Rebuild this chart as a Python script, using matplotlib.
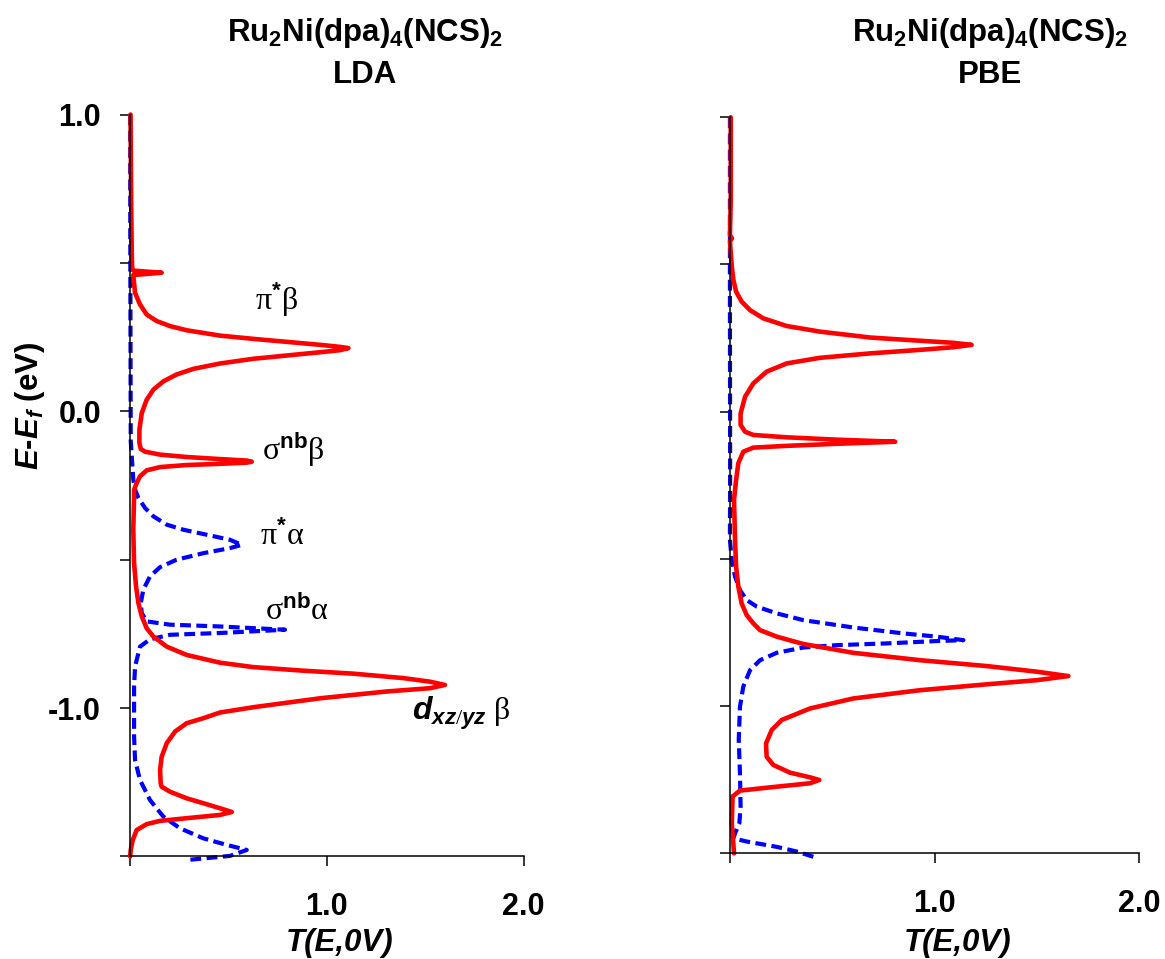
import matplotlib
matplotlib.use('Agg')
import matplotlib.pyplot as plt

plt.rcParams['font.family'] = ['Liberation Sans', 'DejaVu Sans']
plt.rcParams['mathtext.fontset'] = 'custom'
plt.rcParams['mathtext.rm'] = 'Liberation Serif'
plt.rcParams['mathtext.it'] = 'Liberation Sans:italic:bold'
plt.rcParams['mathtext.bf'] = 'Liberation Sans:bold'
plt.rcParams['mathtext.sf'] = 'Liberation Sans:bold'

# LDA, beta spin (red solid)
lda_beta_E = [1.0, 0.714, 0.545, 0.484, 0.474, 0.467, 0.459, 0.399, 0.360, 0.326,
              0.304, 0.287, 0.273, 0.255, 0.244, 0.234, 0.224, 0.217, 0.213, 0.206,
              0.199, 0.188, 0.177, 0.161, 0.143, 0.124, 0.101, 0.073, 0.039, -0.006,
              -0.062, -0.107, -0.127, -0.136, -0.146, -0.154, -0.161, -0.166, -0.170,
              -0.173, -0.177, -0.181, -0.188, -0.199, -0.219, -0.242, -0.264, -0.287,
              -0.399, -0.512, -0.590, -0.646, -0.691, -0.731, -0.759, -0.793, -0.821,
              -0.847, -0.862, -0.874, -0.884, -0.899, -0.911, -0.922, -0.933, -0.944,
              -0.967, -0.997, -1.015, -1.034, -1.051, -1.079, -1.118, -1.164, -1.209,
              -1.253, -1.265, -1.282, -1.304, -1.324, -1.341, -1.350, -1.360, -1.371,
              -1.380, -1.391, -1.411, -1.445, -1.478, -1.50]
lda_beta_T = [0.005, 0.008, 0.011, 0.013, 0.019, 0.163, 0.019, 0.028, 0.053, 0.087,
              0.138, 0.206, 0.290, 0.459, 0.629, 0.798, 0.967, 1.069, 1.111, 1.069,
              0.967, 0.798, 0.629, 0.459, 0.324, 0.239, 0.172, 0.121, 0.087, 0.062,
              0.050, 0.050, 0.057, 0.079, 0.155, 0.290, 0.459, 0.595, 0.620,
              0.595, 0.459, 0.290, 0.155, 0.087, 0.053, 0.036, 0.023, 0.023,
              0.019, 0.023, 0.033, 0.045, 0.062, 0.087, 0.121, 0.189, 0.290,
              0.459, 0.629, 0.882, 1.136, 1.390, 1.525, 1.601, 1.525, 1.306,
              0.967, 0.629, 0.459, 0.375, 0.290, 0.231, 0.189, 0.163, 0.155,
              0.158, 0.163, 0.206, 0.290, 0.392, 0.476, 0.519, 0.459, 0.290,
              0.155, 0.087, 0.036, 0.016, 0.006, 0.003]

# LDA, alpha spin (blue dashed)
lda_alpha_E = [1.0, 0.5, -0.1, -0.230, -0.264, -0.292, -0.326, -0.354, -0.382, -0.399,
               -0.416, -0.433, -0.450, -0.461, -0.478, -0.500, -0.525, -0.556, -0.601,
               -0.646, -0.680, -0.708, -0.719, -0.725, -0.736, -0.747, -0.753, -0.768,
               -0.793, -0.860, -0.927, -1.096, -1.175, -1.242, -1.310, -1.366, -1.405,
               -1.439, -1.461, -1.478, -1.498, -1.512]
lda_alpha_T = [0.003, 0.004, 0.006, 0.019, 0.028, 0.045, 0.079, 0.121, 0.189, 0.273,
               0.392, 0.510, 0.570, 0.510, 0.375, 0.239, 0.155, 0.104, 0.070,
               0.057, 0.062, 0.087, 0.206, 0.459, 0.789, 0.459, 0.206, 0.104,
               0.053, 0.028, 0.023, 0.023, 0.028, 0.053, 0.104, 0.172, 0.256,
               0.375, 0.493, 0.595, 0.510, 0.290]

# PBE, beta spin (red solid)
pbe_beta_E = [1.0, 0.719, 0.600, 0.589, 0.578, 0.493, 0.447, 0.408, 0.374, 0.345,
              0.317, 0.291, 0.272, 0.252, 0.241, 0.234, 0.227, 0.219, 0.210, 0.198,
              0.183, 0.164, 0.136, 0.096, 0.051, -0.006, -0.045, -0.068, -0.079,
              -0.087, -0.095, -0.102, -0.109, -0.116, -0.122, -0.136, -0.175, -0.232,
              -0.300, -0.436, -0.526, -0.594, -0.651, -0.691, -0.719, -0.742, -0.764,
              -0.789, -0.819, -0.844, -0.864, -0.883, -0.898, -0.912, -0.926, -0.946,
              -0.974, -1.008, -1.047, -1.081, -1.127, -1.172, -1.200, -1.226, -1.242,
              -1.251, -1.262, -1.276, -1.287, -1.307, -1.398, -1.50]
pbe_beta_T = [0.006, 0.006, 0.002, 0.012, 0.002, 0.011, 0.019, 0.032, 0.059, 0.100,
              0.165, 0.279, 0.441, 0.685, 0.929, 1.092, 1.181, 1.092, 0.929, 0.685,
              0.441, 0.279, 0.181, 0.116, 0.076, 0.054, 0.054, 0.076, 0.116,
              0.279, 0.523, 0.808, 0.523, 0.279, 0.116, 0.067, 0.043, 0.032,
              0.022, 0.027, 0.032, 0.043, 0.059, 0.084, 0.116, 0.149, 0.230,
              0.360, 0.604, 0.929, 1.255, 1.498, 1.653, 1.498, 1.255, 0.929,
              0.604, 0.393, 0.255, 0.206, 0.178, 0.181, 0.214, 0.295, 0.393,
              0.438, 0.393, 0.198, 0.051, 0.015, 0.011, 0.022]

# PBE, alpha spin (blue dashed)
pbe_alpha_E = [1.0, 0.4, -0.2, -0.436, -0.504, -0.560, -0.606, -0.640, -0.662, -0.685,
               -0.708, -0.733, -0.753, -0.764, -0.776, -0.779, -0.787, -0.793, -0.801,
               -0.819, -0.844, -0.878, -0.934, -1.002, -1.115, -1.229, -1.342, -1.398,
               -1.432, -1.449, -1.460, -1.478, -1.494, -1.512]
pbe_alpha_T = [0.002, 0.002, 0.003, 0.002, 0.011, 0.027, 0.051, 0.084, 0.133, 0.230,
               0.360, 0.604, 0.848, 1.011, 1.141, 1.011, 0.767, 0.523, 0.360,
               0.230, 0.149, 0.100, 0.067, 0.051, 0.045, 0.051, 0.054, 0.048,
               0.027, 0.019, 0.084, 0.230, 0.328, 0.410]

ytick_vals = [1.0, 0.5, 0.0, -0.5, -1.0, -1.5]
ytick_labels = ['1.0', '', '0.0', '', '-1.0', '']
xtick_vals = [0, 1, 2]
xtick_labels = ['', '1.0', '2.0']

fig = plt.figure(figsize=(11.65, 9.59), dpi=100)
ax1 = fig.add_axes([0.1112, 0.1069, 0.3382, 0.7737])
ax2 = fig.add_axes([0.6262, 0.1102, 0.3519, 0.7675])

panels = [(ax1, lda_alpha_T, lda_alpha_E, lda_beta_T, lda_beta_E, True),
          (ax2, pbe_alpha_T, pbe_alpha_E, pbe_beta_T, pbe_beta_E, False)]

for ax, aT, aE, bT, bE, show_y in panels:
    ax.plot(aT, aE, color='blue', lw=3.0, linestyle=(0, (2.6, 1.3)), clip_on=False)
    ax.plot(bT, bE, color='red', lw=3.3, clip_on=False,
            solid_joinstyle='round', solid_capstyle='round')
    ax.set_xlim(0, 2)
    ax.set_ylim(-1.5, 1.0)
    ax.spines['top'].set_visible(False)
    ax.spines['right'].set_visible(False)
    for s in ['left', 'bottom']:
        ax.spines[s].set_linewidth(1.1)
    ax.set_yticks(ytick_vals)
    ax.set_yticklabels(ytick_labels if show_y else [''] * len(ytick_vals))
    ax.set_xticks(xtick_vals)
    ax.set_xticklabels(xtick_labels)
    ax.tick_params(axis='both', direction='out', length=7.5, width=1.1, labelsize=22)
    ax.tick_params(axis='x', pad=18)
    ax.tick_params(axis='y', pad=13)
    for lab in ax.get_xticklabels() + ax.get_yticklabels():
        lab.set_fontweight('bold')

# curve labels (left panel)
lab_kw = dict(fontsize=23, ha='left', va='baseline')
ax1.text(0.637, 0.341, r'$\mathrm{\pi}^{\mathbf{*}}\mathrm{\beta}$', **lab_kw)
ax1.text(0.671, -0.163, r'$\mathrm{\sigma}^{\mathbf{nb}}\mathrm{\beta}$', **lab_kw)
ax1.text(0.662, -0.450, r'$\mathrm{\pi}^{\mathbf{*}}\mathrm{\alpha}$', **lab_kw)
ax1.text(0.688, -0.703, r'$\mathrm{\sigma}^{\mathbf{nb}}\mathrm{\alpha}$', **lab_kw)
ax1.text(1.432, -1.040, r'$d_{xz/yz}\;\mathrm{\beta}$', **lab_kw)

# titles
title_main = r'Ru$_\mathbf{2}$Ni(dpa)$_\mathbf{4}$(NCS)$_\mathbf{2}$'
for xc, method in [(0.3133, 'LDA'), (0.8498, 'PBE')]:
    fig.text(xc, 0.9572, title_main, ha='center', va='baseline', fontsize=22.5, fontweight='bold')
    fig.text(xc, 0.9135, method, ha='center', va='baseline', fontsize=22.5, fontweight='bold')

# axis labels
fig.text(0.0258, 0.5766, r'$E$-$E_f$ (eV)', rotation=90, ha='center', va='center',
         fontsize=22.5, fontweight='bold')
for xc in [0.2918, 0.8223]:
    fig.text(xc, 1 - 951 / 959, 'T(E,0V)', ha='center', va='baseline', fontsize=22.5,
             fontweight='bold', fontstyle='italic')

fig.savefig('out.png', dpi=100)
